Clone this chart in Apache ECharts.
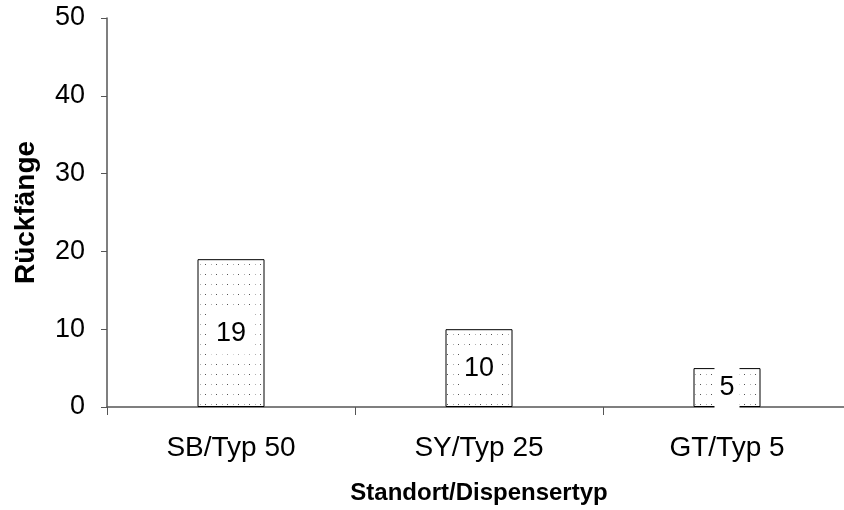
<!DOCTYPE html>
<html>
<head>
<meta charset="utf-8">
<style>
  html, body { margin: 0; padding: 0; background: #fff; overflow: hidden; }
  #chart { width: 851px; height: 510px; }
</style>
<script src="https://cdn.jsdelivr.net/npm/echarts@6/dist/echarts.min.js"></script>
</head>
<body>
<div id="chart"></div>
<script>
// data
const categories = ['SB/Typ 50', 'SY/Typ 25', 'GT/Typ 5']
const values = [19, 10, 5]

// dotted fill like the original
function dotPattern() {
  const c = document.createElement('canvas')
  c.width = 11
  c.height = 10
  const ctx = c.getContext('2d')
  ctx.fillStyle = '#fff'
  ctx.fillRect(0, 0, 11, 10)
  ctx.fillStyle = '#555'
  ctx.fillRect(7, 4, 1, 1)
  ctx.fillStyle = '#b0b0b0'
  ctx.fillRect(2, 4, 1, 1)
  return c
}

// chart div is a bit wider than the window: the x axis runs off the right edge
const myChart = echarts.init(document.getElementById('chart'))
myChart.setOption({
  animation: false,
  textStyle: { fontFamily: 'Liberation Sans, Arial, sans-serif' },
  grid: { left: 107, right: 0, top: 18, bottom: 103 },
  xAxis: {
    type: 'category',
    data: categories,
    name: 'Standort/Dispensertyp',
    nameLocation: 'middle',
    nameGap: 74,
    nameTextStyle: { fontSize: 24, fontWeight: 'bold', color: '#000' },
    axisLine: { lineStyle: { color: '#555', width: 1.5 } },
    axisTick: { show: true, alignWithLabel: false, length: 8, lineStyle: { color: '#555' } },
    axisLabel: { fontSize: 28, color: '#000', margin: 27 }
  },
  yAxis: {
    type: 'value',
    min: 0,
    max: 50,
    interval: 10,
    name: 'Rückfänge',
    nameLocation: 'middle',
    nameGap: 67,
    nameTextStyle: { fontSize: 28, fontWeight: 'bold', color: '#000' },
    splitLine: { show: false },
    axisLine: { show: true, lineStyle: { color: '#555', width: 1.5 } },
    axisTick: { show: true, length: 6, lineStyle: { color: '#555' } },
    axisLabel: { fontSize: 27, color: '#000', margin: 22 }
  },
  series: [
    {
      type: 'bar',
      data: values,
      barWidth: 67,
      itemStyle: {
        color: { image: dotPattern(), repeat: 'repeat' },
        borderColor: '#000',
        borderWidth: 1
      },
      label: {
        show: true,
        position: 'inside',
        fontSize: 27,
        color: '#000',
        backgroundColor: '#fff',
        padding: [8, 5]
      }
    }
  ]
})
</script>
</body>
</html>
